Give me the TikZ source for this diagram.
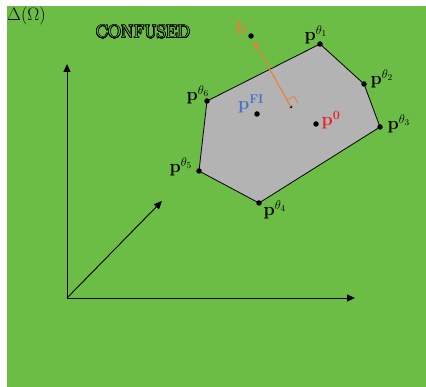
\RequirePackage{fix-cm}
\documentclass[tikz,border=0pt]{standalone}
\usepackage{amsmath}
\usepackage{contour}
\contourlength{0.55pt}
\contournumber{24}
\usetikzlibrary{arrows.meta,calc}
\definecolor{bggreen}{RGB}{107,189,69}
\definecolor{polygrey}{RGB}{179,179,179}
\definecolor{horange}{RGB}{237,125,49}
\definecolor{fiblue}{RGB}{68,114,196}
\definecolor{zred}{RGB}{240,30,30}
\tikzset{
  lbl/.style={inner sep=0pt, font=\fontsize{18}{21}\selectfont},
  vtx/.style={circle, fill=black, inner sep=0pt, minimum size=5.5pt},
  axis/.style={-{Triangle[length=8pt,width=7pt]}, line width=0.9pt},
}
\begin{document}
\begin{tikzpicture}[x=1pt,y=-1pt]
\useasboundingbox (0,0) rectangle (426,387);
\fill[bggreen] (7,6) rectangle (426,387);
% labels
\node[lbl, anchor=west] (omega) at (7,16) {$\Delta(\Omega)$};
\node[lbl] (conf) at (143,32) {\contour{black}{\textcolor{bggreen}{CONFUSED}}};
% axes
\coordinate (O) at (67,298);
\coordinate (yend) at (67,64);
\coordinate (xend) at (355,298);
\coordinate (zend) at (162,201);
\draw[axis] (O) -- (yend);
\draw[axis] (O) -- (xend);
\draw[axis] (O) -- (zend);
% polygon
\coordinate (p1) at (320,44);
\coordinate (p2) at (364,84);
\coordinate (p3) at (380,127);
\coordinate (p4) at (259,203);
\coordinate (p5) at (199,171);
\coordinate (p6) at (207,101);
\filldraw[fill=polygrey, draw=black, line width=0.8pt] (p1) -- (p2) -- (p3) -- (p4) -- (p5) -- (p6) -- cycle;
\foreach \i in {1,...,6} { \node[vtx] (v\i) at (p\i) {}; }
\node[lbl] (l1) at (316,35) {$\mathbf{p}^{\theta_1}$};
\node[lbl] (l2) at (382,79) {$\mathbf{p}^{\theta_2}$};
\node[lbl] (l3) at (399,124) {$\mathbf{p}^{\theta_3}$};
\node[lbl] (l4) at (275,210) {$\mathbf{p}^{\theta_4}$};
\node[lbl] (l5) at (181,167) {$\mathbf{p}^{\theta_5}$};
\node[lbl] (l6) at (198,95) {$\mathbf{p}^{\theta_6}$};
% inner points
\node[vtx] (pfi) at (257,114) {};
\node[lbl, text=fiblue] (lfi) at (251,104) {$\mathbf{p}^{\mathbf{FI}}$};
\node[vtx] (p0) at (316,124) {};
\node[lbl, text=zred] (l0) at (331,120) {$\mathbf{p}^{\mathbf{0}}$};
% normal vector h
\node[vtx] (h) at (251,36) {};
\node[lbl, text=horange] (lh) at (241,27) {$\mathbf{h}$};
\node[circle, fill=black, inner sep=0pt, minimum size=3pt] (foot) at (291,107) {};
\draw[horange, line width=1pt, -{Stealth[length=8pt,width=6pt]}] (foot.center) -- ($(foot.center)!0.93!(h.center)$);
\draw[horange, line width=0.7pt] ($(foot.center)!8pt!(h.center)$) -- ++(7,-4) coordinate (rc) -- ++(4,7.5);
\end{tikzpicture}
\end{document}
